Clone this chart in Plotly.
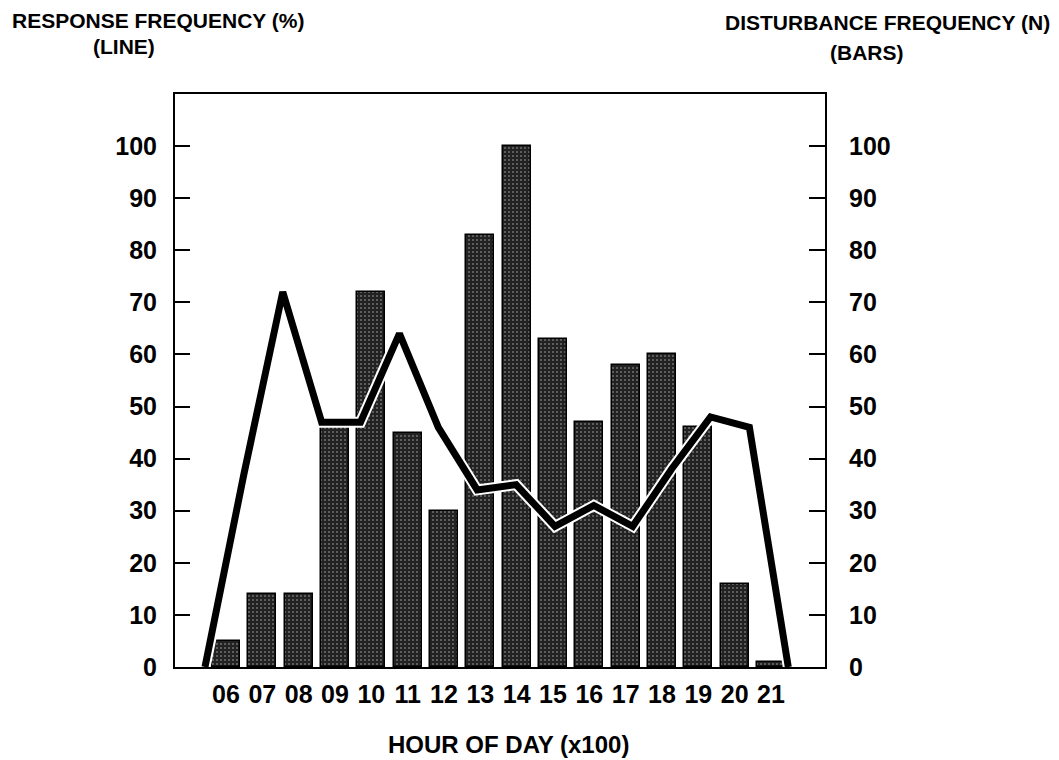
import plotly.graph_objects as go

hours = ["06", "07", "08", "09", "10", "11", "12", "13", "14", "15", "16", "17", "18", "19", "20", "21"]
disturbance_n = [5, 14, 14, 46, 72, 45, 30, 83, 100, 63, 47, 58, 60, 46, 16, 1]
response_pct = [0, 37, 72, 47, 47, 64, 46, 34, 35, 27, 31, 27, 38, 48, 46, 0]
y_ticks = [0, 10, 20, 30, 40, 50, 60, 70, 80, 90, 100]

FONT = "Liberation Sans, Arial, Helvetica, sans-serif"
W, H = 1059, 760
L, R, T, B = 175, 825, 94, 667


def px(x):
    return (x - L) / (R - L)


def py(y):
    return (B - y) / (B - T)


fig = go.Figure()

fig.add_trace(go.Bar(
    x=hours, y=disturbance_n, xaxis="x", yaxis="y",
    width=0.77,
    marker=dict(
        color="#222222",
        line=dict(color="#000000", width=1.5),
        pattern=dict(shape=".", fgcolor="#a8a8a8", bgcolor="#222222",
                     size=4, solidity=0.13, fillmode="replace"),
    ),
    showlegend=False,
))

fig.add_trace(go.Scatter(
    x=hours, y=response_pct, xaxis="x2", yaxis="y2", mode="lines",
    line=dict(color="#ffffff", width=11), showlegend=False, hoverinfo="skip",
))
fig.add_trace(go.Scatter(
    x=hours, y=response_pct, xaxis="x2", yaxis="y2", mode="lines",
    line=dict(color="#000000", width=7), showlegend=False,
))

yr = [0, (B - T) / 5.21]
tickfont = dict(family=FONT, size=25, color="#000000", weight="bold")

fig.update_layout(
    width=W, height=H,
    margin=dict(l=L, r=W - R, t=T, b=H - B, pad=0),
    plot_bgcolor="#ffffff", paper_bgcolor="#ffffff",
    bargap=0,
    xaxis=dict(
        type="category", categoryorder="array", categoryarray=hours,
        range=[-1.404, 16.486], showgrid=False, zeroline=False,
        showline=True, linecolor="#000000", linewidth=2, mirror=True,
        ticks="", tickfont=dict(family=FONT, size=25, color="#000000", weight="bold"),
        ticklabelstandoff=4,
    ),
    xaxis2=dict(
        type="category", categoryorder="array", categoryarray=hours,
        overlaying="x", range=[-0.771, 15.944], showgrid=False, zeroline=False,
        showline=False, showticklabels=False, ticks="",
    ),
    yaxis=dict(
        side="right", range=yr, tickvals=y_ticks, showgrid=False, zeroline=False,
        showline=True, linecolor="#000000", linewidth=2,
        ticks="inside", ticklen=16, tickwidth=2, tickcolor="#000000",
        tickfont=tickfont, ticklabelstandoff=17,
    ),
    yaxis2=dict(
        side="left", overlaying="y", range=yr, tickvals=y_ticks, showgrid=False,
        zeroline=False, showline=True, linecolor="#000000", linewidth=2,
        ticks="inside", ticklen=15, tickwidth=2, tickcolor="#000000",
        tickfont=tickfont, ticklabelstandoff=11,
    ),
    annotations=[
        dict(text="RESPONSE FREQUENCY (%)", xref="paper", yref="paper",
             x=px(10), y=py(20.5), xanchor="left", yanchor="middle", showarrow=False,
             font=dict(family=FONT, size=21, color="#000000", weight="bold")),
        dict(text="(LINE)", xref="paper", yref="paper",
             x=px(124), y=py(47), xanchor="center", yanchor="middle", showarrow=False,
             font=dict(family=FONT, size=21, color="#000000", weight="bold")),
        dict(text="DISTURBANCE FREQUENCY (N)", xref="paper", yref="paper",
             x=px(1052), y=py(22.5), xanchor="right", yanchor="middle", showarrow=False,
             font=dict(family=FONT, size=21, color="#000000", weight="bold")),
        dict(text="(BARS)", xref="paper", yref="paper",
             x=px(867), y=py(52), xanchor="center", yanchor="middle", showarrow=False,
             font=dict(family=FONT, size=21, color="#000000", weight="bold")),
        dict(text="HOUR OF DAY (x100)", xref="paper", yref="paper",
             x=px(508), y=py(744), xanchor="center", yanchor="middle", showarrow=False,
             font=dict(family=FONT, size=24, color="#000000", weight="bold")),
    ],
)

fig.write_html("out.html")
